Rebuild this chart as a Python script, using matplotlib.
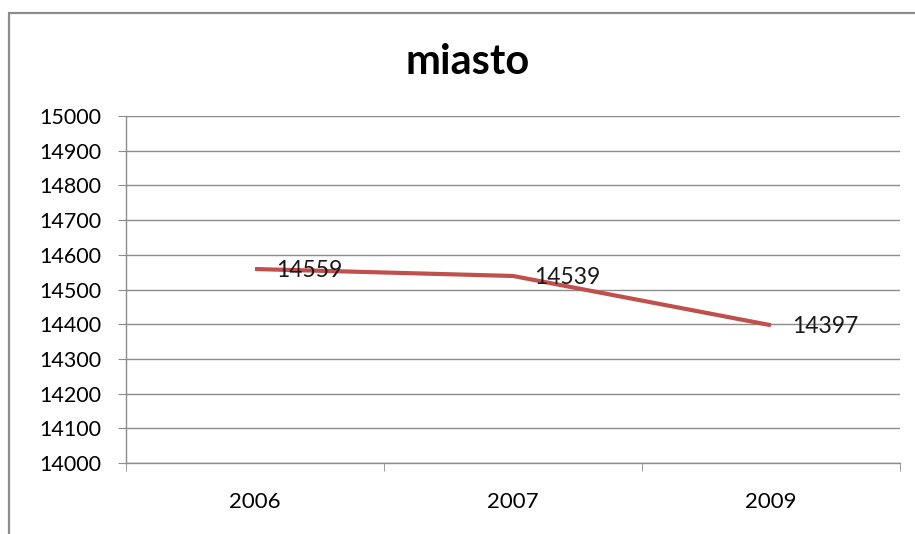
import matplotlib
matplotlib.use("Agg")
import matplotlib.pyplot as plt
from matplotlib.patches import Rectangle

# data
years = ["2006", "2007", "2009"]
values = [14559, 14539, 14397]
yticks = list(range(14000, 15001, 100))

plt.rcParams['font.family'] = ['Lato', 'DejaVu Sans']

fig = plt.figure(figsize=(9.15, 5.34), dpi=100)
W, H = 915.0, 534.0

# outer chart frame (cropped at right and bottom like the screenshot)
fig.patches.append(Rectangle((9 / W, -0.1), 1.2, 1 - 13 / H + 0.1,
                             transform=fig.transFigure, fill=False,
                             edgecolor='#8c8c8c', linewidth=1.6))

ax = fig.add_axes([126 / W, 1 - 463 / H, (900 - 126) / W, (463 - 116) / H])

x = range(len(years))
ax.plot(x, values, color='#C0504D', linewidth=3, solid_capstyle='butt')
for xi, v in zip(x, values):
    ax.annotate(str(v), (xi, v), xytext=(15, -1), textcoords='offset points',
                ha='left', va='center', fontsize=16.5, color='#1a1a1a')

ax.set_ylim(14000, 15000)
ax.set_yticks(yticks)
ax.set_yticklabels([str(t) for t in yticks], fontsize=15.5)
ax.grid(axis='y', color='#8c8c8c', linewidth=1)
ax.set_axisbelow(True)

ax.set_xlim(-0.5, len(years) - 0.5)
ax.set_xticks(list(x))
ax.set_xticklabels(years, fontsize=16)
ax.set_xticks([i - 0.5 for i in range(len(years) + 1)], minor=True)
ax.tick_params(axis='x', which='major', length=0, pad=21)
ax.tick_params(axis='x', which='minor', length=6, color='#8c8c8c', direction='out')
ax.tick_params(axis='y', length=6, color='#8c8c8c', direction='out', pad=12)

for s in ['top', 'right']:
    ax.spines[s].set_visible(False)
for s in ['left', 'bottom']:
    ax.spines[s].set_color('#8c8c8c')
    ax.spines[s].set_linewidth(1)

fig.text(468 / W, 1 - 62 / H, 'miasto', ha='center', va='center',
         fontsize=30, fontweight='bold')

fig.savefig('out.png', dpi=100)
